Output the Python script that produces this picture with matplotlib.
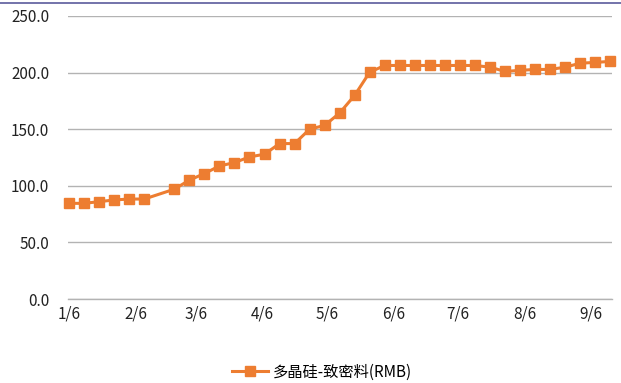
import matplotlib
matplotlib.use("Agg")
import matplotlib.pyplot as plt
from matplotlib.lines import Line2D
import datetime as dt

plt.rcParams['font.family'] = ['Noto Sans CJK SC', 'DejaVu Sans']

dates = ["2021-01-06", "2021-01-13", "2021-01-20", "2021-01-27", "2021-02-03", "2021-02-10",
         "2021-02-24", "2021-03-03", "2021-03-10", "2021-03-17", "2021-03-24", "2021-03-31",
         "2021-04-07", "2021-04-14", "2021-04-21", "2021-04-28", "2021-05-05", "2021-05-12",
         "2021-05-19", "2021-05-26", "2021-06-02", "2021-06-09", "2021-06-16", "2021-06-23",
         "2021-06-30", "2021-07-07", "2021-07-14", "2021-07-21", "2021-07-28", "2021-08-04",
         "2021-08-11", "2021-08-18", "2021-08-25", "2021-09-01", "2021-09-08", "2021-09-15"]
prices = [84.5, 84.5, 86.0, 87.5, 88.3, 88.3,
          97.0, 105.0, 110.8, 117.5, 120.5, 125.5,
          127.9, 137.3, 137.3, 150.0, 153.4, 164.3,
          180.0, 200.4, 206.3, 206.3, 206.3, 206.3,
          206.3, 206.3, 206.3, 204.8, 201.0, 202.0,
          202.8, 202.8, 204.8, 208.3, 209.0, 209.9]
series_label = "多晶硅-致密料(RMB)"
yticks = [0, 50, 100, 150, 200, 250]
tick_dates = ["2021-01-06", "2021-02-06", "2021-03-06", "2021-04-06", "2021-05-06",
              "2021-06-06", "2021-07-06", "2021-08-06", "2021-09-06"]
tick_labels = ["1/6", "2/6", "3/6", "4/6", "5/6", "6/6", "7/6", "8/6", "9/6"]

x = [dt.datetime.strptime(d, "%Y-%m-%d") for d in dates]
tx = [dt.datetime.strptime(d, "%Y-%m-%d") for d in tick_dates]

W, H = 621, 383
fig = plt.figure(figsize=(W / 100, H / 100), dpi=100)
ax = fig.add_axes([68 / W, 1 - 299 / H, (612 - 68) / W, (299 - 16) / H])

orange = "#ED7D31"
ax.plot(x, prices, color=orange, lw=2.2, marker="s", ms=6.5, mec=orange, mfc=orange,
        zorder=3, clip_on=False)

ax.set_ylim(0, 250)
ax.set_yticks(yticks)
ax.set_yticklabels([f"{v:.1f}" for v in yticks])
ax.set_xlim(x[0] - dt.timedelta(days=0.5), x[-1] + dt.timedelta(days=0.8))
ax.set_xticks(tx)
ax.set_xticklabels(tick_labels)

ax.grid(axis="y", color="#b3b3b3", lw=1)
ax.set_axisbelow(True)
for s in ["left", "right", "top"]:
    ax.spines[s].set_visible(False)
ax.spines["bottom"].set_color("#b3b3b3")
ax.spines["bottom"].set_linewidth(1)
ax.tick_params(axis="both", length=0, labelsize=11, colors="#222222")
ax.tick_params(axis="y", pad=13.5)
ax.tick_params(axis="x", pad=5)

handle = Line2D([], [], color=orange, lw=2.2, marker="s", ms=6.5)
fig.legend([handle], [series_label], loc="center", bbox_to_anchor=(322 / W, 1 - 372 / H),
           frameon=False, fontsize=11, handlelength=2.4, handletextpad=0.3)

fig.add_artist(Line2D([0, 1], [1 - 2.5 / H, 1 - 2.5 / H], transform=fig.transFigure,
                      color="#5b5b9c", lw=1.2))

fig.savefig("out.png", dpi=100)
